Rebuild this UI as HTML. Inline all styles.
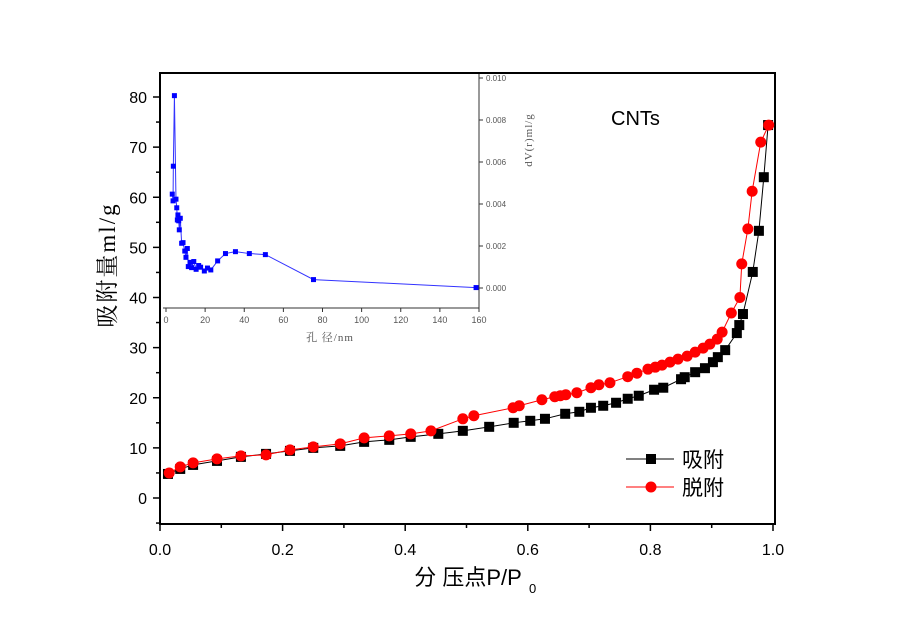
<!DOCTYPE html>
<html><head><meta charset="utf-8"><style>
body{margin:0;background:#fff;}
svg{display:block;font-family:"Liberation Sans","Noto Sans CJK SC",sans-serif;}
</style></head><body>
<svg id="chart" width="900" height="629" viewBox="0 0 900 629">
<rect width="900" height="629" fill="#fff"/>
<g id="main"></g>
<g id="inset"></g>
</svg>
<script>
// Main isotherm data
const adsP=[.013,.033,.054,.093,.132,.173,.212,.250,.294,.333,.374,.409,.454,.494,.537,.577,.604,.628,.661,.684,.703,.723,.744,.763,.781,.806,.821,.850,.856,.873,.889,.902,.910,.922,.941,.945,.951,.967,.977,.985,.992];
const adsV=[4.8,5.8,6.6,7.4,8.2,8.8,9.4,10.0,10.4,11.2,11.6,12.2,12.8,13.4,14.2,15.0,15.4,15.8,16.8,17.2,18.0,18.4,19.0,19.8,20.4,21.6,22.0,23.7,24.1,25.1,25.9,27.1,28.1,29.5,32.9,34.5,36.7,45.1,53.3,64.0,74.4];
const desP=[.015,.033,.054,.093,.132,.173,.212,.250,.294,.333,.374,.409,.442,.494,.512,.576,.586,.623,.644,.662,.653,.680,.703,.716,.734,.763,.778,.796,.808,.819,.832,.845,.860,.873,.886,.897,.909,.917,.932,.946,.949,.959,.966,.980,.993];
const desV=[5.0,6.2,7.0,7.8,8.4,8.6,9.6,10.2,10.8,12.0,12.4,12.8,13.4,15.8,16.4,18.0,18.4,19.6,20.2,20.6,20.4,21.0,22.0,22.6,23.0,24.2,24.9,25.7,26.1,26.5,27.1,27.7,28.3,29.1,29.9,30.7,31.7,33.1,36.9,40.0,46.7,53.7,61.2,71.0,74.4];
const xTicks=[0,0.2,0.4,0.6,0.8,1.0];
const xTickLabels=["0.0","0.2","0.4","0.6","0.8","1.0"];
const yTicks=[0,10,20,30,40,50,60,70,80];
// Inset pore size distribution data
const poreD=[3.2,3.6,3.75,4.3,5.1,5.5,5.8,6.1,6.5,6.8,7.3,8.0,8.7,9.6,10.2,10.9,11.4,12.3,13.1,14.2,15.4,16.7,17.7,19.6,21.2,22.9,26.4,30.4,35.5,42.6,50.8,75.4,158.5];
const poreV=[0.00447,0.00415,0.0058,0.00916,0.00423,0.00382,0.00324,0.00348,0.0032,0.00277,0.00332,0.00213,0.00216,0.00176,0.00146,0.00188,0.00102,0.00122,0.00097,0.00126,0.00089,0.00107,0.00099,0.00081,0.00095,0.00086,0.00129,0.00164,0.00173,0.00164,0.00159,0.0004,0.00002];
const insetXTicks=[0,20,40,60,80,100,120,140,160];
const insetYTicks=[0,0.002,0.004,0.006,0.008,0.010];
const insetYLabels=["0.000","0.002","0.004","0.006","0.008","0.010"];

const NS="http://www.w3.org/2000/svg";
function mk(parent,tag,attrs,name,text){const e=document.createElementNS(NS,tag);for(const k in attrs)e.setAttribute(k,attrs[k]);


if(text!==undefined)e.textContent=text;parent.appendChild(e);return e;}
const sx=p=>160+p*613, sy=v=>498-v*5.0125;
const ix=d=>166+d*1.95625, iy=v=>288-v*21000;
const M=document.getElementById('main'), I=document.getElementById('inset');
const SERIF='"Liberation Serif","Noto Serif CJK SC",serif';

// main frame
mk(M,'rect',{x:160,y:73,width:615,height:451,fill:'none',stroke:'#000','stroke-width':2},'plot-frame');
xTicks.forEach((t,i)=>{mk(M,'line',{x1:sx(t),x2:sx(t),y1:524,y2:531,stroke:'#000','stroke-width':1.5},'x-tick');
mk(M,'text',{x:sx(t),y:555,'font-size':16,'text-anchor':'middle'},'x-tick-label',xTickLabels[i]);});
for(let t=0.1;t<1;t+=0.2){mk(M,'line',{x1:sx(t),x2:sx(t),y1:524,y2:528,stroke:'#000','stroke-width':1.5},'x-minor-tick');}
yTicks.forEach(t=>{mk(M,'line',{x1:153,x2:160,y1:sy(t),y2:sy(t),stroke:'#000','stroke-width':1.5},'y-tick');
mk(M,'text',{x:147,y:sy(t)+6,'font-size':16,'text-anchor':'end'},'y-tick-label',String(t));});
for(let t=-5;t<85;t+=10){mk(M,'line',{x1:156,x2:160,y1:sy(t),y2:sy(t),stroke:'#000','stroke-width':1.5},'y-minor-tick');}
mk(M,'text',{x:468,y:585,'font-size':22,'text-anchor':'middle'},'x-axis-title','分  压点P/P');
mk(M,'text',{x:529,y:593,'font-size':13},'x-axis-title-subscript','0');
mk(M,'text',{x:0,y:0,'font-size':23,'text-anchor':'middle','letter-spacing':2,'font-family':SERIF,transform:'translate(115,265) rotate(-90)'},'y-axis-title','吸附量ml/g');

// series
mk(M,'polyline',{points:adsP.map((p,i)=>sx(p)+','+sy(adsV[i])).join(' '),fill:'none',stroke:'#000','stroke-width':1},'adsorption-line');
adsP.forEach((p,i)=>mk(M,'rect',{x:sx(p)-5,y:sy(adsV[i])-5,width:10,height:10,fill:'#000'},'adsorption-point'));
mk(M,'polyline',{points:desP.map((p,i)=>sx(p)+','+sy(desV[i])).join(' '),fill:'none',stroke:'#f00','stroke-width':1},'desorption-line');
desP.forEach((p,i)=>mk(M,'circle',{cx:sx(p),cy:sy(desV[i]),r:5.5,fill:'#f00'},'desorption-point'));

// legend
mk(M,'line',{x1:626,x2:674,y1:459,y2:459,stroke:'#000'},'legend-adsorption-line');
mk(M,'rect',{x:646,y:454,width:10,height:10,fill:'#000'},'legend-adsorption-marker');
mk(M,'text',{x:682,y:467,'font-size':21},'legend-adsorption-label','吸附');
mk(M,'line',{x1:626,x2:674,y1:487,y2:487,stroke:'#f00'},'legend-desorption-line');
mk(M,'circle',{cx:651,cy:487,r:5.5,fill:'#f00'},'legend-desorption-marker');
mk(M,'text',{x:682,y:495,'font-size':21},'legend-desorption-label','脱附');
mk(M,'text',{x:611,y:125,'font-size':20},'sample-label','CNTs');

// inset
mk(I,'line',{x1:163,x2:479,y1:308,y2:308,stroke:'#333','stroke-width':1},'inset-x-axis');
mk(I,'line',{x1:479,x2:479,y1:74,y2:308,stroke:'#333','stroke-width':1},'inset-y-axis');
insetXTicks.forEach(t=>{mk(I,'line',{x1:ix(t),x2:ix(t),y1:308,y2:312,stroke:'#333'},'inset-x-tick');
mk(I,'text',{x:ix(t),y:323,'font-size':9,'text-anchor':'middle',fill:'#555'},'inset-x-tick-label',String(t));});
insetYTicks.forEach((t,i)=>{mk(I,'line',{x1:479,x2:483,y1:iy(t),y2:iy(t),stroke:'#333'},'inset-y-tick');
mk(I,'text',{x:486,y:iy(t)+3,'font-size':8,fill:'#555'},'inset-y-tick-label',insetYLabels[i]);});
mk(I,'text',{x:330,y:341,'font-size':11,'text-anchor':'middle',fill:'#555','letter-spacing':1,'font-family':SERIF},'inset-x-title','孔 径/nm');
mk(I,'text',{x:0,y:0,'font-size':11,'text-anchor':'middle',fill:'#555','letter-spacing':1,'font-family':SERIF,transform:'translate(532,140) rotate(-90)'},'inset-y-title','dV(r)ml/g');
mk(I,'polyline',{points:poreD.map((d,i)=>ix(d)+','+iy(poreV[i])).join(' '),fill:'none',stroke:'#33f','stroke-width':1},'pore-distribution-line');
poreD.forEach((d,i)=>mk(I,'rect',{x:ix(d)-2.5,y:iy(poreV[i])-2.5,width:5,height:5,fill:'#00f'},'pore-distribution-point'));
</script>
</body></html>
